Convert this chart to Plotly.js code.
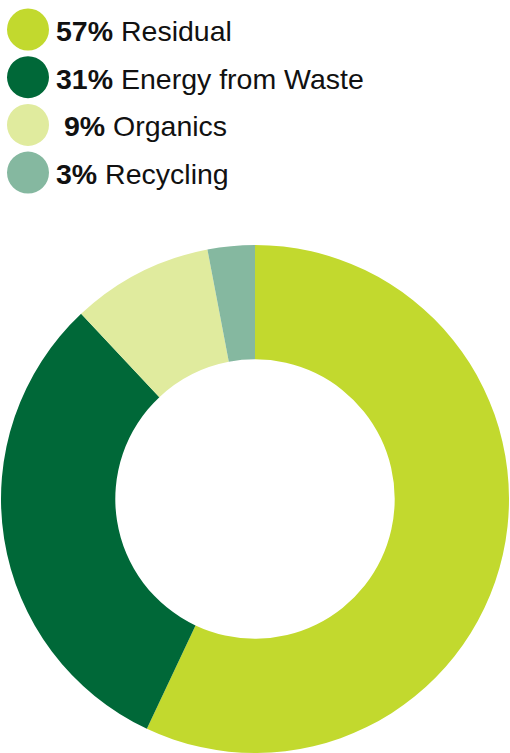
<!DOCTYPE html>
<html>
<head>
<meta charset="utf-8">
<script src="https://cdn.plot.ly/plotly-3.0.1.min.js"></script>
<style>html,body{margin:0;padding:0;background:#fff;}#chart{width:510px;height:753px;}</style>
</head>
<body>
<div id="chart"></div>
<script>
const categories = ["Residual", "Energy from Waste", "Organics", "Recycling"];
const values = [57, 31, 9, 3];
const percentLabels = ["57%", "31%", " 9%", "3%"];
const colors = ["#c2d92e", "#006838", "#e0eb9e", "#85b8a0"];

const W = 510, H = 753;
const legendX = 28, legendY0 = 29.5, legendStep = 47.7, dotR = 21;

const shapes = [], annotations = [];
categories.forEach((c, i) => {
  const cy = legendY0 + i * legendStep;
  shapes.push({
    type: "circle", xref: "paper", yref: "paper",
    xsizemode: "pixel", ysizemode: "pixel",
    xanchor: legendX / W, yanchor: 1 - cy / H,
    x0: -dotR, x1: dotR, y0: -dotR, y1: dotR,
    fillcolor: colors[i], line: {width: 0}
  });
  annotations.push({
    xref: "paper", yref: "paper",
    x: 54 / W, y: 1 - (cy + 1.5) / H,
    xanchor: "left", yanchor: "middle",
    showarrow: false,
    text: "<b>" + percentLabels[i].replace(" ", "&nbsp;") + "</b> " + c,
    font: {family: "Liberation Sans, Arial, sans-serif", size: 28.5, color: "#111"}
  });
});

const data = [{
  type: "pie",
  labels: categories,
  values: values,
  hole: 0.55,
  sort: false,
  direction: "clockwise",
  rotation: 0,
  marker: {colors: colors, line: {width: 0}},
  textinfo: "none",
  hoverinfo: "label+percent",
  showlegend: false,
  domain: {x: [0, 1], y: [0, (H - 245) / H]}
}];

const layout = {
  width: W, height: H,
  margin: {l: 0, r: 0, t: 0, b: 0},
  paper_bgcolor: "#fff",
  showlegend: false,
  shapes: shapes,
  annotations: annotations
};

Plotly.newPlot("chart", data, layout, {displayModeBar: false, staticPlot: true});
</script>
</body>
</html>
